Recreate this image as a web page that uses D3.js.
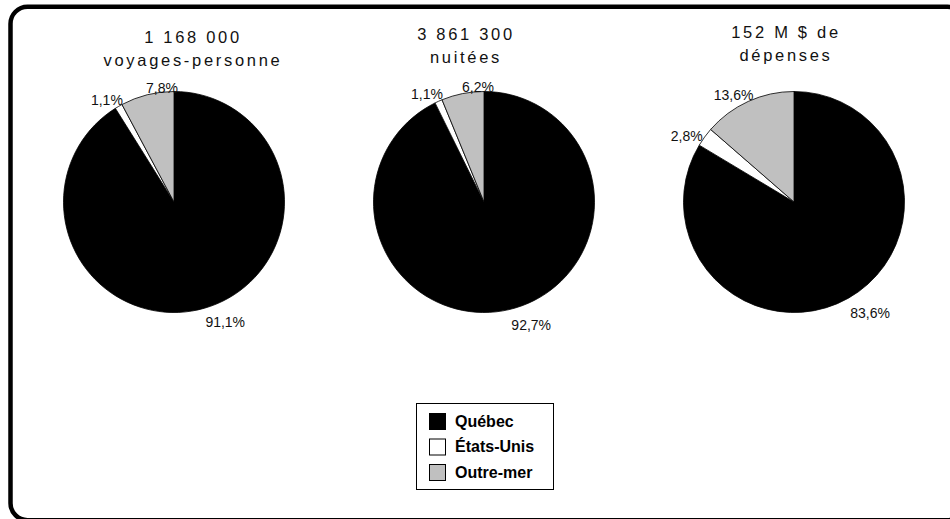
<!DOCTYPE html>
<html>
<head>
<meta charset="utf-8">
<script src="https://cdn.jsdelivr.net/npm/d3@7"></script>
<style>
  body { margin: 0; background: #fff; }
  svg { display: block; font-family: "Liberation Sans", Arial, sans-serif; }
</style>
</head>
<body>
<svg id="chart" width="950" height="519"></svg>
<script>
// data
const categories = ["Québec", "États-Unis", "Outre-mer"];
const titles = [["1 168 000", "voyages-personne"], ["3 861 300", "nuitées"], ["152 M $ de", "dépenses"]];
const voyages = [91.1, 1.1, 7.8];
const nuitees = [92.7, 1.1, 6.2];
const depenses = [83.6, 2.8, 13.6];

const colors = ["#000000", "#ffffff", "#c0c0c0"];

// layout (per panel): pie center, title placement, label nudges
const panels = [
  { values: voyages, cx: 174, titleX: 193, titleY: 43, nudge: [[17, 1], [-5, 5], [18, 6]] },
  { values: nuitees, cx: 484, titleX: 466, titleY: 40, nudge: [[19, 2], [-6, 5], [18, 7]] },
  { values: depenses, cx: 794, titleX: 786, titleY: 38, nudge: [[15, 3], [-7, 7], [-9, 6]] }
];
const R = 110.5, cy = 202;

const svg = d3.select("#chart");

// frame (cropped on the right and bottom like the original)
svg.append("rect")
  .attr("x", 10.5).attr("y", 6.75)
  .attr("width", 954).attr("height", 513.4)
  .attr("rx", 17).attr("ry", 17)
  .attr("fill", "none")
  .attr("stroke", "#000")
  .attr("stroke-width", 4.5);

const pie = d3.pie().sort(null).value(d => d);
const arc = d3.arc().innerRadius(0).outerRadius(R);
const labelArc = d3.arc().innerRadius(124).outerRadius(124);
const fmt = v => v.toFixed(1).replace(".", ",") + "%";

panels.forEach((p, i) => {
  const g = svg.append("g");

  // title, two lines
  g.append("text")
    .attr("text-anchor", "middle")
    .attr("font-size", 16.5)
    .attr("letter-spacing", 2.7)
    .attr("fill", "#111")
    .selectAll("tspan")
    .data(titles[i])
    .join("tspan")
      .attr("x", p.titleX)
      .attr("y", (d, j) => p.titleY + j * 23)
      .text(d => d);

  const pg = g.append("g").attr("transform", `translate(${p.cx},${cy})`);
  const arcs = pie(p.values);

  pg.selectAll("path")
    .data(arcs)
    .join("path")
      .attr("d", arc)
      .attr("fill", (d, j) => colors[j])
      .attr("stroke", "#000")
      .attr("stroke-width", 0.8);

  pg.selectAll("text")
    .data(arcs)
    .join("text")
      .attr("transform", (d, j) => {
        const c = labelArc.centroid(d);
        return `translate(${c[0] + p.nudge[j][0]},${c[1] + p.nudge[j][1]})`;
      })
      .attr("text-anchor", "middle")
      .attr("dy", "0.36em")
      .attr("font-size", 14)
      .attr("fill", "#111")
      .text(d => fmt(d.data));
});

// legend
const lg = svg.append("g");
lg.append("rect")
  .attr("x", 416.5).attr("y", 403.5)
  .attr("width", 137).attr("height", 86)
  .attr("fill", "#fff")
  .attr("stroke", "#000")
  .attr("stroke-width", 1);

const rowY = d3.scalePoint().domain(categories).range([421, 472]);

const rows = lg.selectAll("g.row")
  .data(categories)
  .join("g")
    .attr("class", "row")
    .attr("transform", d => `translate(429,${rowY(d)})`);

rows.append("rect")
  .attr("x", 0.5).attr("y", -7.5)
  .attr("width", 16).attr("height", 16)
  .attr("fill", (d, j) => colors[j])
  .attr("stroke", "#000")
  .attr("stroke-width", 1);

rows.append("text")
  .attr("x", 26)
  .attr("dy", "0.36em")
  .attr("font-size", 16)
  .attr("font-weight", "bold")
  .attr("fill", "#000")
  .text(d => d);
</script>
</body>
</html>
